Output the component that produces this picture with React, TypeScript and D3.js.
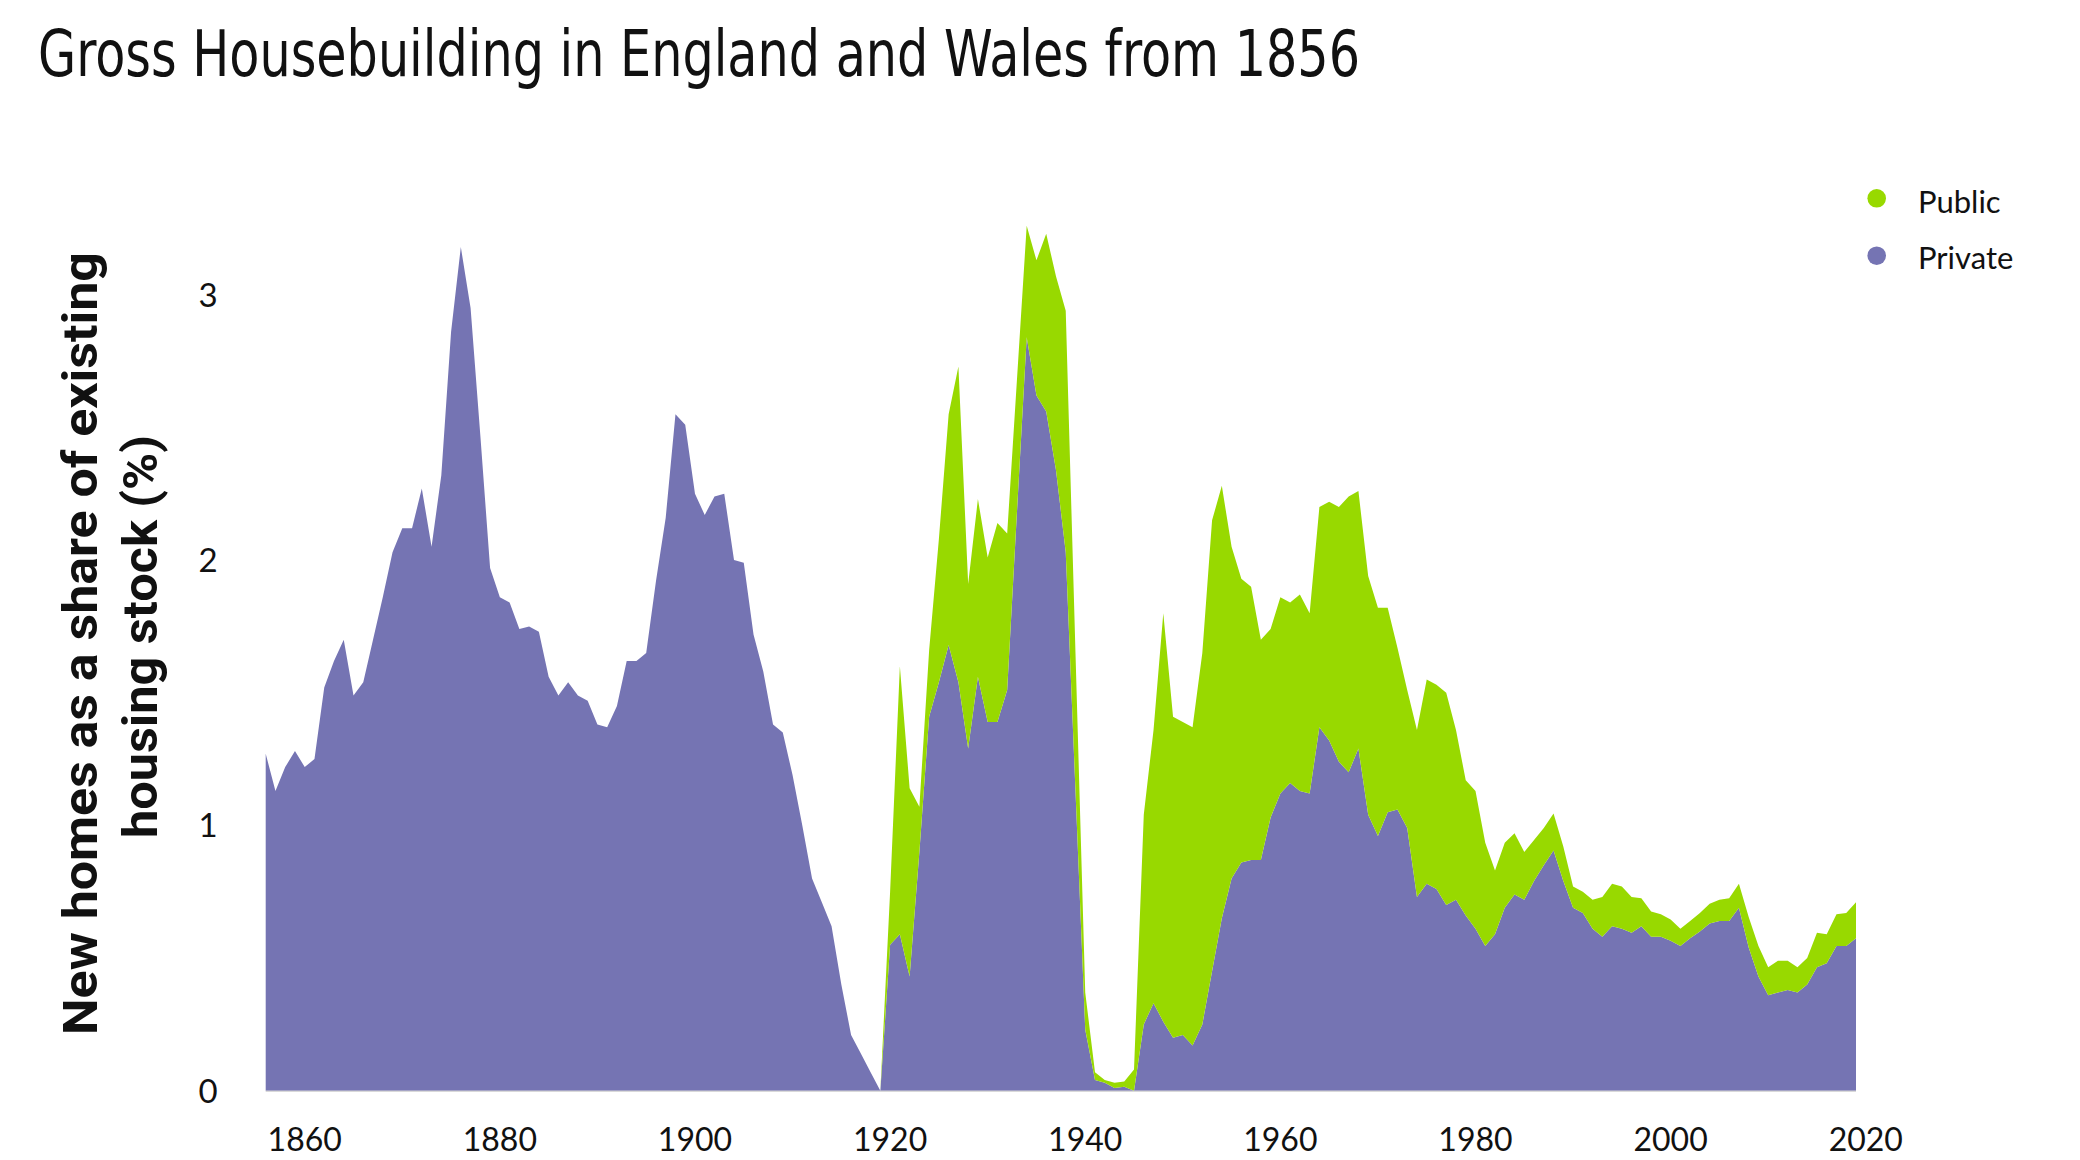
import React from "react";
import * as d3 from "d3";

const startYear = 1856;

const privateValues: number[] = [
  1.27, 1.13, 1.22, 1.28, 1.22, 1.25, 1.52, 1.62, 1.7, 1.49,
  1.54, 1.7, 1.86, 2.03, 2.12, 2.12, 2.27, 2.05, 2.32, 2.86,
  3.18, 2.95, 2.47, 1.97, 1.86, 1.84, 1.74, 1.75, 1.73, 1.56,
  1.49, 1.54, 1.49, 1.47, 1.38, 1.37, 1.45, 1.62, 1.62, 1.65,
  1.92, 2.16, 2.55, 2.51, 2.25, 2.17, 2.24, 2.25, 2.0, 1.99,
  1.72, 1.58, 1.38, 1.35, 1.19, 1.0, 0.8, 0.71, 0.62, 0.4,
  0.21, 0.14, 0.07, 0.0, 0.55, 0.59, 0.43, 0.9, 1.41, 1.54,
  1.68, 1.54, 1.29, 1.56, 1.39, 1.39, 1.51, 2.18, 2.84, 2.62,
  2.56, 2.34, 2.03, 1.13, 0.23, 0.04, 0.03, 0.01, 0.015, 0.0,
  0.25, 0.33, 0.26, 0.2, 0.21, 0.17, 0.25, 0.45, 0.65, 0.8,
  0.86, 0.87, 0.87, 1.03, 1.12, 1.16, 1.13, 1.12, 1.37, 1.32,
  1.24, 1.2, 1.29, 1.04, 0.96, 1.05, 1.06, 0.99, 0.73, 0.78,
  0.76, 0.7, 0.72, 0.66, 0.61, 0.545, 0.59, 0.69, 0.74, 0.72,
  0.79, 0.85, 0.905, 0.79, 0.69, 0.67, 0.61, 0.58, 0.62, 0.61,
  0.595, 0.62, 0.58, 0.58, 0.565, 0.545, 0.575, 0.6, 0.63, 0.64,
  0.64, 0.69, 0.54, 0.43, 0.36, 0.37, 0.38, 0.37, 0.4, 0.465,
  0.48, 0.545, 0.545, 0.575,
];

const publicValues: number[] = [
  0, 0, 0, 0, 0, 0, 0, 0, 0, 0,
  0, 0, 0, 0, 0, 0, 0, 0, 0, 0,
  0, 0, 0, 0, 0, 0, 0, 0, 0, 0,
  0, 0, 0, 0, 0, 0, 0, 0, 0, 0,
  0, 0, 0, 0, 0, 0, 0, 0, 0, 0,
  0, 0, 0, 0, 0, 0, 0, 0, 0, 0,
  0, 0, 0, 0, 0.2, 1.01, 0.71, 0.17, 0.25, 0.54,
  0.87, 1.19, 0.62, 0.67, 0.62, 0.75, 0.59, 0.5, 0.42, 0.51,
  0.67, 0.73, 0.91, 0.52, 0.14, 0.03, 0.01, 0.02, 0.02, 0.08,
  0.79, 1.03, 1.54, 1.21, 1.18, 1.2, 1.4, 1.7, 1.63, 1.25,
  1.07, 1.03, 0.83, 0.71, 0.74, 0.68, 0.74, 0.68, 0.83, 0.9,
  0.96, 1.04, 0.97, 0.9, 0.86, 0.77, 0.61, 0.52, 0.63, 0.77,
  0.77, 0.8, 0.64, 0.51, 0.52, 0.39, 0.24, 0.245, 0.23, 0.18,
  0.155, 0.14, 0.14, 0.13, 0.08, 0.08, 0.11, 0.15, 0.16, 0.16,
  0.135, 0.105, 0.095, 0.085, 0.08, 0.065, 0.065, 0.07, 0.075, 0.08,
  0.085, 0.09, 0.115, 0.115, 0.105, 0.12, 0.11, 0.095, 0.1, 0.13,
  0.11, 0.12, 0.125, 0.135,
];

const xTicks = [1860, 1880, 1900, 1920, 1940, 1960, 1980, 2000, 2020];
const yTicks = [0, 1, 2, 3];
const seriesKeys = ["private", "public"];
const seriesColors: Record<string, string> = { private: "#7574b3", public: "#98d900" };
const legendItems = [
  { key: "public", label: "Public" },
  { key: "private", label: "Private" },
];

const titleText = "Gross Housebuilding in England and Wales from 1856";
const yTitle1 = "New homes as a share of existing";
const yTitle2 = "housing stock (%)";

export default function App() {
  const W = 2080;
  const H = 1160;
  const rows = privateValues.map((p, i) => ({
    year: startYear + i,
    private: p,
    public: publicValues[i],
  }));
  const x = d3.scaleLinear().domain([1856, 2019]).range([265.7, 1856]);
  const y = d3.scaleLinear().domain([0, 3]).range([1090.7, 294.8]);
  const stack = d3.stack<any>().keys(seriesKeys);
  const layers = stack(rows);
  const area = d3
    .area<any>()
    .x((d) => x(d.data.year))
    .y0((d) => y(d[0]))
    .y1((d) => y(d[1]));

  const tickFont = "Lato, 'Open Sans', sans-serif";

  return (
    <svg
      width={W}
      height={H}
      style={{ position: "absolute", left: 0, top: 0, background: "#fff" }}
    >
      <rect x={0} y={0} width={W} height={H} fill="#fff" />
      <text
        x={38}
        y={76}
        fontFamily="'Liberation Sans Narrow', 'DejaVu Sans Condensed', Roboto, sans-serif"
        fontSize={64}
        fill="#111"
        textLength={1322}
        lengthAdjust="spacingAndGlyphs"
      >
        {titleText}
      </text>

      {layers.map((layer) => (
        <path
          key={layer.key}
          d={area(layer as any) || ""}
          fill={seriesColors[layer.key]}
        />
      ))}
      <line
        x1={x(1856)}
        x2={x(2019)}
        y1={y(0) + 0.5}
        y2={y(0) + 0.5}
        stroke="#c8c8c8"
        strokeWidth={1}
      />

      {xTicks.map((t) => (
        <text
          key={t}
          x={x(t)}
          y={1151}
          textAnchor="middle"
          fontFamily={tickFont}
          fontSize={32}
          fill="#111"
        >
          {t}
        </text>
      ))}
      {yTicks.map((t) => (
        <text
          key={t}
          x={208}
          y={y(t) + 12}
          textAnchor="middle"
          fontFamily={tickFont}
          fontSize={33}
          fill="#111"
        >
          {t}
        </text>
      ))}

      <text
        transform={`translate(97, 643.5) rotate(-90)`}
        textAnchor="middle"
        fontFamily="Roboto, 'Liberation Sans', sans-serif"
        fontWeight={700}
        fontSize={48}
        fill="#111"
        textLength={783}
        lengthAdjust="spacingAndGlyphs"
      >
        {yTitle1}
      </text>
      <text
        transform={`translate(157, 636.5) rotate(-90)`}
        textAnchor="middle"
        fontFamily="Roboto, 'Liberation Sans', sans-serif"
        fontWeight={700}
        fontSize={48}
        fill="#111"
        textLength={403}
        lengthAdjust="spacingAndGlyphs"
      >
        {yTitle2}
      </text>

      {legendItems.map((item, i) => (
        <g key={item.key}>
          <circle
            cx={1876.7}
            cy={198.3 + i * 57.4}
            r={9.3}
            fill={seriesColors[item.key]}
          />
          <text
            x={1918}
            y={213 + i * 56}
            fontFamily={tickFont}
            fontSize={31}
            fill="#111"
          >
            {item.label}
          </text>
        </g>
      ))}
    </svg>
  );
}
